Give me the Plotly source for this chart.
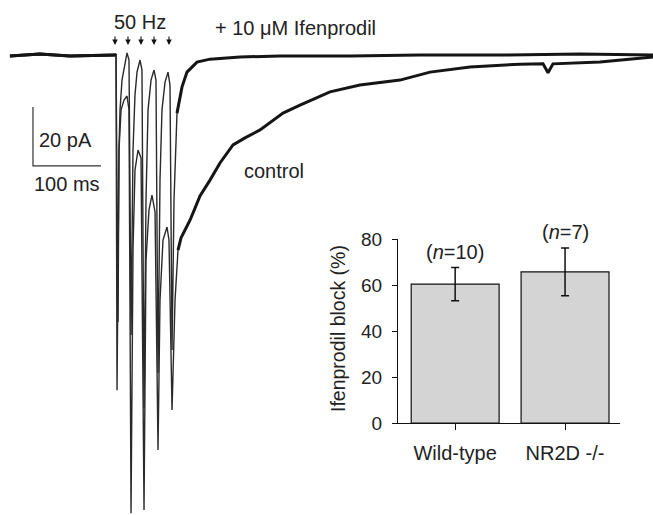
import plotly.graph_objects as go

# ---------------- data: currents (time in ms, current in pA) ----------------
ifen_t = [-156, -112, -68, -24, -1, 0, 3, 4.4, 5.9, 8.8, 13.2, 16.2, 19.1, 22.1, 25.0, 27.9,
          30.9, 35.3, 38.2, 41.2, 44.1, 47.1, 51.5, 55.9, 58.8, 61.8, 64.7, 67.6, 72.1, 76.5,
          79.4, 82.4, 85.3, 89.7, 97.1, 104.4, 119.1, 138.2, 182.4, 241.2, 344.1, 447, 564.7,
          682.4, 789.7]
ifen_i = [-0.3, 0.3, -0.3, 0, 0, -0.3, -90.5, -32.2, -18.6, -8.5, -2.4, 0.7, -1.7, -94.9, -32.2,
          -13.6, -5.8, -1.7, -5.1, -119.7, -49.2, -18.6, -8.5, -5.1, -8.5, -107.8, -42.4, -18.6,
          -9.2, -5.8, -10.2, -100, -49.2, -19.7, -10.8, -5.8, -2.4, -1.4, -0.7, -0.3, -0.3, 0,
          0, 0.3, 0]

ctrl_t = [-156, -112, -68, -24, -1, 0, 1.5, 4.4, 7.4, 11.8, 16.2, 19.1, 22.1, 25.0, 27.9, 32.4,
          36.8, 41.2, 44.1, 48.5, 52.9, 57.4, 61.8, 64.7, 69.1, 75.0, 77.9, 82.4, 86.8, 91.2,
          95.6, 101.5, 108.8, 116.2, 123.5, 138.2, 152.9, 172.1, 189.7, 211.8, 245.6, 270.6,
          314.7, 358.8, 417.6, 461.8, 520.6, 594.1, 628.0, 635.3, 642.6, 711.8, 789.7]
ctrl_i = [-0.3, 0.3, -0.3, 0, 0, -0.3, -113.6, -32.2, -18.6, -15.3, -13.9, -18.6, -155.3, -66.1,
          -39.0, -32.2, -34.9, -154.2, -69.5, -52.5, -47.5, -53.2, -133.9, -83.1, -62.7, -58.3,
          -62.7, -120.3, -83.1, -66.1, -62.0, -59.3, -56.0, -51.9, -47.8, -42.4, -36.6, -30.5,
          -28.1, -25.4, -19.7, -17.0, -12.5, -10.2, -8.5, -5.8, -4.1, -3.1, -3.0, -6.0, -3.0,
          -2.4, -0.7]

stim_times = [-1.5, 17.6, 36.8, 55.9, 77.9]   # 50 Hz stimuli (ms)
scale_ms = 100
scale_pa = 20

# ---------------- data: inset bar chart ----------------
groups = ["Wild-type", "NR2D -/-"]
block_pct = [60.4, 65.7]
block_sem = [7.2, 10.4]
n_labels = ["(<i>n</i>=10)", "(<i>n</i>=7)"]
y_ticks = [0, 20, 40, 60, 80]

FONT = "Liberation Sans, Arial, sans-serif"
INK = "#111111"
TRAIN_END = 95  # ms: end of the fast spike train segment

fig = go.Figure()


def add_segments(ts, vals):
    # thick (noisy-looking) baseline/tail, thin fast spikes in between
    pre = [(t, v) for t, v in zip(ts, vals) if t <= 0]
    mid = [(t, v) for t, v in zip(ts, vals) if 0 <= t <= TRAIN_END]
    first_post = next(i for i, t in enumerate(ts) if t > TRAIN_END)
    mid.append((ts[first_post], vals[first_post]))
    post = [(t, v) for t, v in zip(ts, vals) if t >= ts[first_post - 1] and t > TRAIN_END - 10]
    for seg, w, c in ((pre, 3.0, "#151515"), (mid, 1.4, "#2a2a2a"), (post, 3.0, "#151515")):
        fig.add_trace(go.Scatter(x=[p[0] for p in seg], y=[p[1] for p in seg], mode="lines",
                                 line=dict(color=c, width=w), hoverinfo="skip",
                                 xaxis="x", yaxis="y"))


add_segments(ifen_t, ifen_i)
add_segments(ctrl_t, ctrl_i)

# scale bar
sb_x0, sb_y0 = -122.1, -37.6
fig.add_trace(go.Scatter(x=[sb_x0, sb_x0, sb_x0 + scale_ms],
                         y=[sb_y0 + scale_pa, sb_y0, sb_y0], mode="lines",
                         line=dict(color="#333333", width=1.2), hoverinfo="skip",
                         xaxis="x", yaxis="y"))

# inset bars
fig.add_trace(go.Bar(x=groups, y=block_pct, width=0.8,
                     marker=dict(color="#d4d4d4", line=dict(color=INK, width=1.2)),
                     error_y=dict(type="data", array=block_sem, visible=True,
                                  color=INK, thickness=1.5, width=4),
                     xaxis="x2", yaxis="y2", hoverinfo="skip"))

annotations = []
for t in stim_times:
    annotations.append(dict(x=t, y=3.4, xref="x", yref="y", ax=0, ay=-10,
                            showarrow=True, arrowhead=2, arrowsize=1.0,
                            arrowwidth=1.1, arrowcolor=INK, text=""))


def txt(text, x, y, xanchor="left", size=20):
    return dict(text=text, x=x, y=y, xref="x", yref="y", showarrow=False,
                xanchor=xanchor, yanchor="middle",
                font=dict(family=FONT, size=size, color="#222222"))


annotations += [
    txt("50 Hz", 35.3, 11.2, "center"),
    txt("+ 10 \u03bcM Ifenprodil", 142.6, 9.3),
    txt("control", 185.3, -39.3),
    txt(f"{scale_pa} pA", -116.2, -28.8),
    txt(f"{scale_ms} ms", -123.5, -43.7),
]

for g, v, e, lab in zip(groups, block_pct, block_sem, n_labels):
    annotations.append(dict(text=lab, x=g, y=v + e, xref="x2", yref="y2",
                            showarrow=False, xanchor="center", yanchor="bottom",
                            yshift=3, font=dict(family=FONT, size=20, color="#222222")))

annotations.append(dict(text="Ifenprodil block (%)", x=338 / 653, y=(515 - 329) / 515,
                        xref="paper", yref="paper", showarrow=False, textangle=-90,
                        xanchor="center", yanchor="middle",
                        font=dict(family=FONT, size=19.5, color="#222222")))

fig.update_layout(
    width=653, height=515, autosize=False, margin=dict(l=0, r=0, t=0, b=0, pad=0),
    paper_bgcolor="white", plot_bgcolor="white", showlegend=False,
    font=dict(family=FONT, color="#222222"),
    xaxis=dict(domain=[0, 1], range=[-170.6, 789.7], visible=False, fixedrange=True),
    yaxis=dict(domain=[0, 1], range=[-155.9, 18.64], visible=False, fixedrange=True),
    xaxis2=dict(domain=[398 / 653, 620 / 653], anchor="y2", range=[-0.52, 1.5],
                showline=True, linecolor=INK, linewidth=1.2, ticks="outside",
                ticklen=6, tickcolor=INK, tickwidth=1.2, showgrid=False, zeroline=False,
                tickfont=dict(family=FONT, size=20, color="#222222"),
                ticklabelstandoff=6, automargin=False),
    yaxis2=dict(domain=[(515 - 423) / 515, (515 - 239) / 515], anchor="x2", range=[0, 80],
                tickvals=y_ticks, showline=True, linecolor=INK, linewidth=1.2,
                ticks="outside", ticklen=5, tickcolor=INK, tickwidth=1.2,
                showgrid=False, zeroline=False,
                tickfont=dict(family=FONT, size=19, color="#222222"),
                ticklabelstandoff=6, automargin=False),
    annotations=annotations,
    bargap=0.2,
)

fig.write_html(
    "out.html",
    config={"displayModeBar": False},
    post_script="document.body.style.margin='0';document.documentElement.style.overflow='hidden';document.body.style.overflow='hidden';",
)
